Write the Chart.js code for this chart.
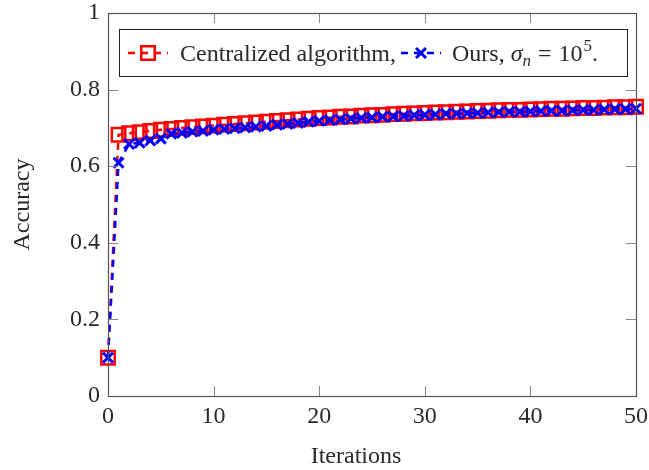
<!DOCTYPE html>
<html><head><meta charset="utf-8">
<script src="https://cdn.jsdelivr.net/npm/chart.js@4.4.0/dist/chart.umd.min.js"></script>
<style>html,body{margin:0;padding:0;background:#fff}canvas{display:block}</style>
</head><body>
<canvas id="c" width="649" height="470"></canvas>
<script>
const iterations = [0,1,2,3,4,5,6,7,8,9,10,11,12,13,14,15,16,17,18,19,20,21,22,23,24,25,26,27,28,29,30,31,32,33,34,35,36,37,38,39,40,41,42,43,44,45,46,47,48,49,50];
const centralized = [0.100,0.682,0.686,0.689,0.692,0.695,0.697,0.700,0.702,0.704,0.706,0.708,0.710,0.712,0.714,0.716,0.718,0.720,0.722,0.724,0.726,0.727,0.729,0.730,0.732,0.733,0.734,0.736,0.737,0.738,0.739,0.740,0.741,0.742,0.743,0.744,0.745,0.746,0.747,0.747,0.748,0.749,0.750,0.750,0.751,0.752,0.752,0.753,0.754,0.754,0.755];
const ours = [0.100,0.609,0.658,0.661,0.667,0.672,0.685,0.687,0.690,0.692,0.695,0.697,0.699,0.701,0.703,0.705,0.708,0.710,0.713,0.716,0.718,0.720,0.722,0.724,0.726,0.727,0.729,0.730,0.731,0.733,0.734,0.735,0.737,0.737,0.738,0.739,0.740,0.741,0.742,0.742,0.743,0.744,0.745,0.745,0.746,0.747,0.747,0.748,0.749,0.749,0.750];
const xTicks = [0,10,20,30,40,50];
const yTicks = [0,0.2,0.4,0.6,0.8,1];
const yTickLabels = ['0','0.2','0.4','0.6','0.8','1'];
const xTitle = 'Iterations';
const yTitle = 'Accuracy';
const name1 = 'Centralized algorithm,';
const name2 = 'Ours, ';

const FONT = '"Liberation Serif", "DejaVu Serif", serif';
const TXT = '#2a2a2a';
const DASH = [7,6];

function sampleAndMark(ctx, x0, x1, y, color, style, r, bw) {
  ctx.save();
  ctx.strokeStyle = color; ctx.lineWidth = 2.5; ctx.setLineDash(DASH);
  ctx.beginPath(); ctx.moveTo(x0, y); ctx.lineTo(x1, y); ctx.stroke();
  ctx.setLineDash([]);
  ctx.lineWidth = bw; ctx.fillStyle = 'rgba(0,0,0,0)';
  Chart.helpers.drawPoint(ctx, {pointStyle: style, radius: r, borderWidth: bw, rotation: 0}, (x0 + x1) / 2, y);
  ctx.restore();
}

const decor = {
  id: 'decor',
  afterDraw(chart) {
    const ctx = chart.ctx, a = chart.chartArea;
    const xs = chart.scales.x, ys = chart.scales.y;
    ctx.save();
    ctx.strokeStyle = '#8a8a8a'; ctx.lineWidth = 1;
    const TL = 10;
    ctx.beginPath();
    xTicks.forEach(v => {
      const px = Math.round(xs.getPixelForValue(v)) + 0.5;
      ctx.moveTo(px, a.bottom); ctx.lineTo(px, a.bottom - TL);
      ctx.moveTo(px, a.top); ctx.lineTo(px, a.top + TL);
    });
    yTicks.forEach(v => {
      const py = Math.round(ys.getPixelForValue(v)) + 0.5;
      ctx.moveTo(a.left, py); ctx.lineTo(a.left + TL, py);
      ctx.moveTo(a.right, py); ctx.lineTo(a.right - TL, py);
    });
    ctx.stroke();
    ctx.strokeStyle = '#555'; ctx.lineWidth = 1.2;
    ctx.strokeRect(Math.round(a.left) + 0.5, Math.round(a.top) + 0.5, Math.round(a.right - a.left), Math.round(a.bottom - a.top));
    ctx.fillStyle = TXT;
    ctx.font = '24px ' + FONT;
    ctx.textAlign = 'center'; ctx.textBaseline = 'alphabetic';
    ctx.fillText(xTitle, 356, 463);
    ctx.save();
    ctx.translate(29, (a.top + a.bottom) / 2);
    ctx.rotate(-Math.PI / 2);
    ctx.fillText(yTitle, 0, 0);
    ctx.restore();
    const lx0 = 119, ly0 = 29, lx1 = 627, ly1 = 76;
    ctx.fillStyle = '#fff';
    ctx.fillRect(lx0, ly0, lx1 - lx0, ly1 - ly0);
    ctx.strokeStyle = '#222'; ctx.lineWidth = 1;
    ctx.strokeRect(lx0 + 0.5, ly0 + 0.5, lx1 - lx0, ly1 - ly0);
    const cy = (ly0 + ly1) / 2 + 0.5;
    sampleAndMark(ctx, 128, 168, cy, '#ff0000', 'rect', 9.5, 2.5);
    sampleAndMark(ctx, 401, 441, cy, '#0000ff', 'crossRot', 7, 3);
    const base = cy + 8;
    ctx.fillStyle = TXT; ctx.textAlign = 'left';
    ctx.font = '24px ' + FONT;
    ctx.fillText(name1, 180, base);
    let x = 452;
    ctx.fillText(name2, x, base); x += ctx.measureText(name2).width;
    ctx.font = 'italic 24px ' + FONT;
    ctx.fillText('\u03C3', x, base); x += ctx.measureText('\u03C3').width;
    ctx.font = 'italic 17px ' + FONT;
    ctx.fillText('n', x, base + 5); x += ctx.measureText('n').width + 7;
    ctx.font = '24px ' + FONT;
    ctx.fillText('=', x, base); x += ctx.measureText('=').width + 7;
    ctx.fillText('10', x, base); x += ctx.measureText('10').width + 1;
    ctx.font = '17px ' + FONT;
    ctx.fillText('5', x, base - 10); x += ctx.measureText('5').width;
    ctx.font = '24px ' + FONT;
    ctx.fillText('.', x, base);
    ctx.restore();
  }
};

new Chart(document.getElementById('c'), {
  type: 'line',
  data: {
    datasets: [
      {
        label: name1,
        data: iterations.map((v, i) => ({x: v, y: centralized[i]})),
        borderColor: '#ff0000', borderWidth: 2.5, borderDash: DASH,
        pointStyle: 'rect', pointRadius: 9.5, pointBorderWidth: 2.5,
        pointBorderColor: '#ff0000', pointBackgroundColor: 'rgba(0,0,0,0)',
        fill: false, tension: 0, order: 1, clip: false
      },
      {
        label: 'Ours, \u03C3n = 10^5.',
        data: iterations.map((v, i) => ({x: v, y: ours[i]})),
        borderColor: '#0000ff', borderWidth: 2.5, borderDash: DASH,
        pointStyle: 'crossRot', pointRadius: 7, pointBorderWidth: 3,
        pointBorderColor: '#0000ff', pointBackgroundColor: 'rgba(0,0,0,0)',
        fill: false, tension: 0, order: 0, clip: false
      }
    ]
  },
  options: {
    responsive: false, animation: false,
    layout: {padding: {left: 0, top: 13, right: 13, bottom: 0}},
    plugins: {legend: {display: false}, tooltip: {enabled: false}},
    scales: {
      x: {
        type: 'linear', min: 0, max: 50,
        afterBuildTicks: s => { s.ticks = xTicks.map(v => ({value: v})); },
        afterFit: s => { s.height = 74; s.paddingLeft = 0; s.paddingRight = 0; },
        grid: {display: false, drawTicks: false},
        border: {display: false},
        ticks: {color: TXT, font: {family: FONT, size: 24}, padding: 6, maxRotation: 0}
      },
      y: {
        type: 'linear', min: 0, max: 1,
        afterBuildTicks: s => { s.ticks = yTicks.map(v => ({value: v})); },
        afterFit: s => { s.width = 108; s.paddingTop = 0; s.paddingBottom = 0; },
        grid: {display: false, drawTicks: false},
        border: {display: false},
        ticks: {color: TXT, font: {family: FONT, size: 24}, padding: 8,
          callback: (v, i) => yTickLabels[i]}
      }
    }
  },
  plugins: [decor]
});
</script>
</body></html>
